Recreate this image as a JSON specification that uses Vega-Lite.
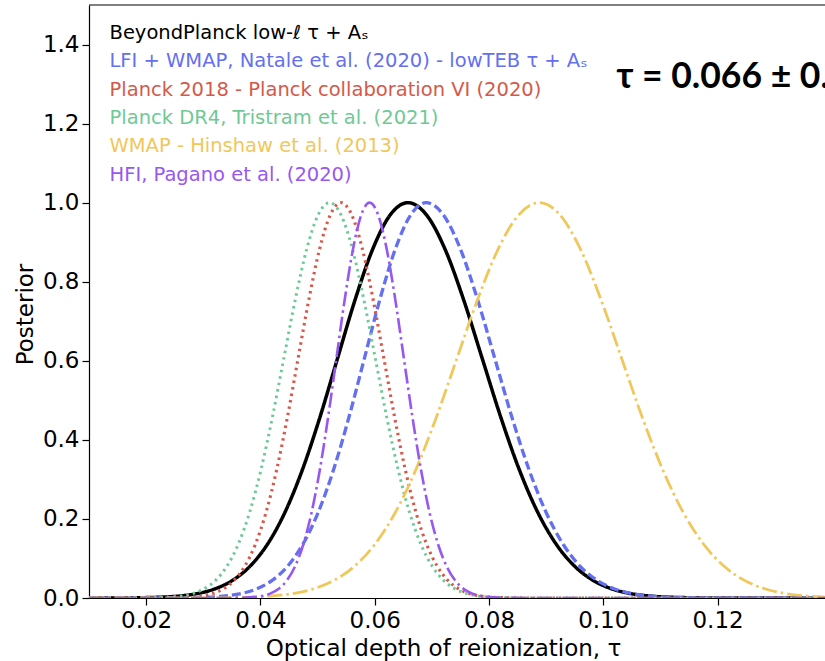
{
  "$schema": "https://vega.github.io/schema/vega-lite/v6.json",
  "width": 736,
  "height": 593,
  "autosize": {"type": "none"},
  "padding": {"left": 89, "top": 5, "right": 0, "bottom": 63},
  "background": "white",
  "config": {
    "font": "DejaVu Sans",
    "view": {"stroke": null},
    "axis": {"grid": false, "domainColor": "black", "tickColor": "black", "labelColor": "black", "titleColor": "black", "labelFont": "DejaVu Sans", "titleFont": "DejaVu Sans", "labelFontSize": 23, "titleFontSize": 23, "titleFontWeight": "normal", "tickSize": 7, "domainWidth": 1.2, "tickWidth": 1.2}
  },
  "layer": [
    {
      "data": {"values": [
        {"s":"BP","x":0.01,"y":0},{"s":"BP","x":0.01045,"y":0.00004},{"s":"BP","x":0.0166,"y":0.00034},{"s":"BP","x":0.019675,"y":0.00089},{"s":"BP","x":0.02275,"y":0.00219},{"s":"BP","x":0.025825,"y":0.00508},{"s":"BP","x":0.0289,"y":0.01111},{"s":"BP","x":0.031975,"y":0.02279},{"s":"BP","x":0.03505,"y":0.04394},{"s":"BP","x":0.038125,"y":0.07956},{"s":"BP","x":0.0412,"y":0.13534},{"s":"BP","x":0.044275,"y":0.21627},{"s":"BP","x":0.04735,"y":0.32465},{"s":"BP","x":0.050425,"y":0.45783},{"s":"BP","x":0.0535,"y":0.60653},{"s":"BP","x":0.056575,"y":0.75484},{"s":"BP","x":0.05965,"y":0.8825},{"s":"BP","x":0.062725,"y":0.96923},{"s":"BP","x":0.0658,"y":1},{"s":"BP","x":0.06905,"y":0.96923},{"s":"BP","x":0.0723,"y":0.8825},{"s":"BP","x":0.07555,"y":0.75484},{"s":"BP","x":0.0788,"y":0.60653},{"s":"BP","x":0.08205,"y":0.45783},{"s":"BP","x":0.0853,"y":0.32465},{"s":"BP","x":0.08855,"y":0.21627},{"s":"BP","x":0.0918,"y":0.13534},{"s":"BP","x":0.09505,"y":0.07956},{"s":"BP","x":0.0983,"y":0.04394},{"s":"BP","x":0.10155,"y":0.02279},{"s":"BP","x":0.1048,"y":0.01111},{"s":"BP","x":0.10805,"y":0.00508},{"s":"BP","x":0.1113,"y":0.00219},{"s":"BP","x":0.11455,"y":0.00089},{"s":"BP","x":0.1178,"y":0.00034},{"s":"BP","x":0.1243,"y":0.00004},{"s":"BP","x":0.15,"y":0},
        {"s":"LW","x":0.01,"y":0},{"s":"LW","x":0.0204,"y":0.00004},{"s":"LW","x":0.0258,"y":0.00034},{"s":"LW","x":0.0285,"y":0.00089},{"s":"LW","x":0.0312,"y":0.00219},{"s":"LW","x":0.0339,"y":0.00508},{"s":"LW","x":0.0366,"y":0.01111},{"s":"LW","x":0.0393,"y":0.02279},{"s":"LW","x":0.042,"y":0.04394},{"s":"LW","x":0.0447,"y":0.07956},{"s":"LW","x":0.0474,"y":0.13534},{"s":"LW","x":0.0501,"y":0.21627},{"s":"LW","x":0.0528,"y":0.32465},{"s":"LW","x":0.0555,"y":0.45783},{"s":"LW","x":0.0582,"y":0.60653},{"s":"LW","x":0.0609,"y":0.75484},{"s":"LW","x":0.0636,"y":0.8825},{"s":"LW","x":0.0663,"y":0.96923},{"s":"LW","x":0.069,"y":1},{"s":"LW","x":0.072,"y":0.96923},{"s":"LW","x":0.075,"y":0.8825},{"s":"LW","x":0.078,"y":0.75484},{"s":"LW","x":0.081,"y":0.60653},{"s":"LW","x":0.084,"y":0.45783},{"s":"LW","x":0.087,"y":0.32465},{"s":"LW","x":0.09,"y":0.21627},{"s":"LW","x":0.093,"y":0.13534},{"s":"LW","x":0.096,"y":0.07956},{"s":"LW","x":0.099,"y":0.04394},{"s":"LW","x":0.102,"y":0.02279},{"s":"LW","x":0.105,"y":0.01111},{"s":"LW","x":0.108,"y":0.00508},{"s":"LW","x":0.111,"y":0.00219},{"s":"LW","x":0.114,"y":0.00089},{"s":"LW","x":0.117,"y":0.00034},{"s":"LW","x":0.123,"y":0.00004},{"s":"LW","x":0.15,"y":0},
        {"s":"P18","x":0.01,"y":0},{"s":"P18","x":0.02035,"y":0.00004},{"s":"P18","x":0.0241,"y":0.00034},{"s":"P18","x":0.025975,"y":0.00089},{"s":"P18","x":0.02785,"y":0.00219},{"s":"P18","x":0.029725,"y":0.00508},{"s":"P18","x":0.0316,"y":0.01111},{"s":"P18","x":0.033475,"y":0.02279},{"s":"P18","x":0.03535,"y":0.04394},{"s":"P18","x":0.037225,"y":0.07956},{"s":"P18","x":0.0391,"y":0.13534},{"s":"P18","x":0.040975,"y":0.21627},{"s":"P18","x":0.04285,"y":0.32465},{"s":"P18","x":0.044725,"y":0.45783},{"s":"P18","x":0.0466,"y":0.60653},{"s":"P18","x":0.048475,"y":0.75484},{"s":"P18","x":0.05035,"y":0.8825},{"s":"P18","x":0.052225,"y":0.96923},{"s":"P18","x":0.0541,"y":1},{"s":"P18","x":0.055975,"y":0.96923},{"s":"P18","x":0.05785,"y":0.8825},{"s":"P18","x":0.059725,"y":0.75484},{"s":"P18","x":0.0616,"y":0.60653},{"s":"P18","x":0.063475,"y":0.45783},{"s":"P18","x":0.06535,"y":0.32465},{"s":"P18","x":0.067225,"y":0.21627},{"s":"P18","x":0.0691,"y":0.13534},{"s":"P18","x":0.070975,"y":0.07956},{"s":"P18","x":0.07285,"y":0.04394},{"s":"P18","x":0.074725,"y":0.02279},{"s":"P18","x":0.0766,"y":0.01111},{"s":"P18","x":0.078475,"y":0.00508},{"s":"P18","x":0.08035,"y":0.00219},{"s":"P18","x":0.082225,"y":0.00089},{"s":"P18","x":0.0841,"y":0.00034},{"s":"P18","x":0.08785,"y":0.00004},{"s":"P18","x":0.15,"y":0},
        {"s":"DR4","x":0.01,"y":0},{"s":"DR4","x":0.0161,"y":0.00004},{"s":"DR4","x":0.0201,"y":0.00034},{"s":"DR4","x":0.0221,"y":0.00089},{"s":"DR4","x":0.0241,"y":0.00219},{"s":"DR4","x":0.0261,"y":0.00508},{"s":"DR4","x":0.0281,"y":0.01111},{"s":"DR4","x":0.0301,"y":0.02279},{"s":"DR4","x":0.0321,"y":0.04394},{"s":"DR4","x":0.0341,"y":0.07956},{"s":"DR4","x":0.0361,"y":0.13534},{"s":"DR4","x":0.0381,"y":0.21627},{"s":"DR4","x":0.0401,"y":0.32465},{"s":"DR4","x":0.0421,"y":0.45783},{"s":"DR4","x":0.0441,"y":0.60653},{"s":"DR4","x":0.0461,"y":0.75484},{"s":"DR4","x":0.0481,"y":0.8825},{"s":"DR4","x":0.0501,"y":0.96923},{"s":"DR4","x":0.0521,"y":1},{"s":"DR4","x":0.0541,"y":0.96923},{"s":"DR4","x":0.0561,"y":0.8825},{"s":"DR4","x":0.0581,"y":0.75484},{"s":"DR4","x":0.0601,"y":0.60653},{"s":"DR4","x":0.0621,"y":0.45783},{"s":"DR4","x":0.0641,"y":0.32465},{"s":"DR4","x":0.0661,"y":0.21627},{"s":"DR4","x":0.0681,"y":0.13534},{"s":"DR4","x":0.0701,"y":0.07956},{"s":"DR4","x":0.0721,"y":0.04394},{"s":"DR4","x":0.0741,"y":0.02279},{"s":"DR4","x":0.0761,"y":0.01111},{"s":"DR4","x":0.0781,"y":0.00508},{"s":"DR4","x":0.0801,"y":0.00219},{"s":"DR4","x":0.0821,"y":0.00089},{"s":"DR4","x":0.0841,"y":0.00034},{"s":"DR4","x":0.0881,"y":0.00004},{"s":"DR4","x":0.15,"y":0},
        {"s":"WMAP","x":0.01,"y":0},{"s":"WMAP","x":0.024,"y":0.00004},{"s":"WMAP","x":0.0312,"y":0.00034},{"s":"WMAP","x":0.0348,"y":0.00089},{"s":"WMAP","x":0.0384,"y":0.00219},{"s":"WMAP","x":0.042,"y":0.00508},{"s":"WMAP","x":0.0456,"y":0.01111},{"s":"WMAP","x":0.0492,"y":0.02279},{"s":"WMAP","x":0.0528,"y":0.04394},{"s":"WMAP","x":0.0564,"y":0.07956},{"s":"WMAP","x":0.06,"y":0.13534},{"s":"WMAP","x":0.0636,"y":0.21627},{"s":"WMAP","x":0.0672,"y":0.32465},{"s":"WMAP","x":0.0708,"y":0.45783},{"s":"WMAP","x":0.0744,"y":0.60653},{"s":"WMAP","x":0.078,"y":0.75484},{"s":"WMAP","x":0.0816,"y":0.8825},{"s":"WMAP","x":0.0852,"y":0.96923},{"s":"WMAP","x":0.0888,"y":1},{"s":"WMAP","x":0.0924,"y":0.96923},{"s":"WMAP","x":0.096,"y":0.8825},{"s":"WMAP","x":0.0996,"y":0.75484},{"s":"WMAP","x":0.1032,"y":0.60653},{"s":"WMAP","x":0.1068,"y":0.45783},{"s":"WMAP","x":0.1104,"y":0.32465},{"s":"WMAP","x":0.114,"y":0.21627},{"s":"WMAP","x":0.1176,"y":0.13534},{"s":"WMAP","x":0.1212,"y":0.07956},{"s":"WMAP","x":0.1248,"y":0.04394},{"s":"WMAP","x":0.1284,"y":0.02279},{"s":"WMAP","x":0.132,"y":0.01111},{"s":"WMAP","x":0.1356,"y":0.00508},{"s":"WMAP","x":0.1392,"y":0.00219},{"s":"WMAP","x":0.1428,"y":0.00089},{"s":"WMAP","x":0.1464,"y":0.00034},{"s":"WMAP","x":0.1536,"y":0.00004},
        {"s":"HFI","x":0.01,"y":0},{"s":"HFI","x":0.033,"y":0.00004},{"s":"HFI","x":0.0359,"y":0.00034},{"s":"HFI","x":0.03735,"y":0.00089},{"s":"HFI","x":0.0388,"y":0.00219},{"s":"HFI","x":0.04025,"y":0.00508},{"s":"HFI","x":0.0417,"y":0.01111},{"s":"HFI","x":0.04315,"y":0.02279},{"s":"HFI","x":0.0446,"y":0.04394},{"s":"HFI","x":0.04605,"y":0.07956},{"s":"HFI","x":0.0475,"y":0.13534},{"s":"HFI","x":0.04895,"y":0.21627},{"s":"HFI","x":0.0504,"y":0.32465},{"s":"HFI","x":0.05185,"y":0.45783},{"s":"HFI","x":0.0533,"y":0.60653},{"s":"HFI","x":0.05475,"y":0.75484},{"s":"HFI","x":0.0562,"y":0.8825},{"s":"HFI","x":0.05765,"y":0.96923},{"s":"HFI","x":0.0591,"y":1},{"s":"HFI","x":0.0606,"y":0.96923},{"s":"HFI","x":0.0621,"y":0.8825},{"s":"HFI","x":0.0636,"y":0.75484},{"s":"HFI","x":0.0651,"y":0.60653},{"s":"HFI","x":0.0666,"y":0.45783},{"s":"HFI","x":0.0681,"y":0.32465},{"s":"HFI","x":0.0696,"y":0.21627},{"s":"HFI","x":0.0711,"y":0.13534},{"s":"HFI","x":0.0726,"y":0.07956},{"s":"HFI","x":0.0741,"y":0.04394},{"s":"HFI","x":0.0756,"y":0.02279},{"s":"HFI","x":0.0771,"y":0.01111},{"s":"HFI","x":0.0786,"y":0.00508},{"s":"HFI","x":0.0801,"y":0.00219},{"s":"HFI","x":0.0816,"y":0.00089},{"s":"HFI","x":0.0831,"y":0.00034},{"s":"HFI","x":0.0861,"y":0.00004},{"s":"HFI","x":0.15,"y":0}
      ]},
      "transform": [
        {"lookup": "s", "from": {"data": {"values": [
          {"s": "BP", "name": "BeyondPlanck low-ℓ τ + Aₛ"},
          {"s": "LW", "name": "LFI + WMAP, Natale et al. (2020) - lowTEB τ + Aₛ"},
          {"s": "P18", "name": "Planck 2018 - Planck collaboration VI (2020)"},
          {"s": "DR4", "name": "Planck DR4, Tristram et al. (2021)"},
          {"s": "WMAP", "name": "WMAP - Hinshaw et al. (2013)"},
          {"s": "HFI", "name": "HFI, Pagano et al. (2020)"}
        ]}, "key": "s", "fields": ["name"]}}
      ],
      "mark": {"type": "line", "clip": true, "interpolate": "monotone", "strokeCap": "butt"},
      "encoding": {
        "x": {"field": "x", "type": "quantitative", "scale": {"domain": [0.01, 0.1388], "nice": false, "zero": false},
              "axis": {"title": "Optical depth of reionization, τ", "values": [0.02, 0.04, 0.06, 0.08, 0.1, 0.12, 0.14], "format": ".2f", "labelPadding": 4, "labelFlush": false, "labelOverlap": false, "titleX": 354, "titleY": 57, "titleBaseline": "alphabetic", "titleAnchor": "middle", "titleAlign": "center"}},
        "y": {"field": "y", "type": "quantitative", "scale": {"domain": [0, 1.5], "nice": false},
              "axis": {"title": "Posterior", "values": [0, 0.2, 0.4, 0.6, 0.8, 1.0, 1.2, 1.4], "format": ".1f", "labelPadding": 3, "labelFlush": false, "labelOverlap": false, "titleX": -57, "titleY": 309, "titleBaseline": "alphabetic", "titleAnchor": "middle", "titleAlign": "center", "titleAngle": -90}},
        "color": {"field": "name", "type": "nominal",
          "scale": {"domain": ["BeyondPlanck low-ℓ τ + Aₛ", "LFI + WMAP, Natale et al. (2020) - lowTEB τ + Aₛ", "Planck 2018 - Planck collaboration VI (2020)", "Planck DR4, Tristram et al. (2021)", "WMAP - Hinshaw et al. (2013)", "HFI, Pagano et al. (2020)"],
                    "range": ["#000000", "#6470f0", "#d5594a", "#6fc996", "#f0c75a", "#9858f0"]},
          "legend": {"orient": "none", "legendX": 1, "legendY": 18, "title": null, "symbolSize": 0, "symbolStrokeWidth": 0, "symbolOpacity": 0, "labelOffset": 0, "labelFontSize": 19.5, "labelFont": "DejaVu Sans", "labelLimit": 700, "rowPadding": 7.4, "padding": 0, "labelColor": {"expr": "scale('color', datum.value)"}}},
        "strokeDash": {"field": "name", "type": "nominal",
          "scale": {"domain": ["BeyondPlanck low-ℓ τ + Aₛ", "LFI + WMAP, Natale et al. (2020) - lowTEB τ + Aₛ", "Planck 2018 - Planck collaboration VI (2020)", "Planck DR4, Tristram et al. (2021)", "WMAP - Hinshaw et al. (2013)", "HFI, Pagano et al. (2020)"],
                    "range": [[1, 0], [9, 4], [2.5, 4], [2.5, 4], [15, 4, 2.5, 4], [15, 4, 2.5, 4]]},
          "legend": null},
        "strokeWidth": {"field": "name", "type": "nominal",
          "scale": {"domain": ["BeyondPlanck low-ℓ τ + Aₛ", "LFI + WMAP, Natale et al. (2020) - lowTEB τ + Aₛ", "Planck 2018 - Planck collaboration VI (2020)", "Planck DR4, Tristram et al. (2021)", "WMAP - Hinshaw et al. (2013)", "HFI, Pagano et al. (2020)"],
                    "range": [3.5, 2.6, 2.6, 2.6, 2.6, 3]},
          "legend": null}
      }
    },
    {
      "data": {"values": [{"label": "τ = 0.066 ± 0.013"}]},
      "mark": {"type": "text", "clip": true, "font": "Lato", "fontWeight": "bold", "fontSize": 35.5, "align": "left", "baseline": "alphabetic", "color": "black"},
      "encoding": {
        "x": {"datum": 0.1023},
        "y": {"datum": 1.29},
        "text": {"field": "label"}
      }
    },
    {
      "data": {"values": [{}]},
      "mark": {"type": "rule", "color": "black", "strokeWidth": 1.2},
      "encoding": {"y": {"datum": 1.5}}
    }
  ]
}
